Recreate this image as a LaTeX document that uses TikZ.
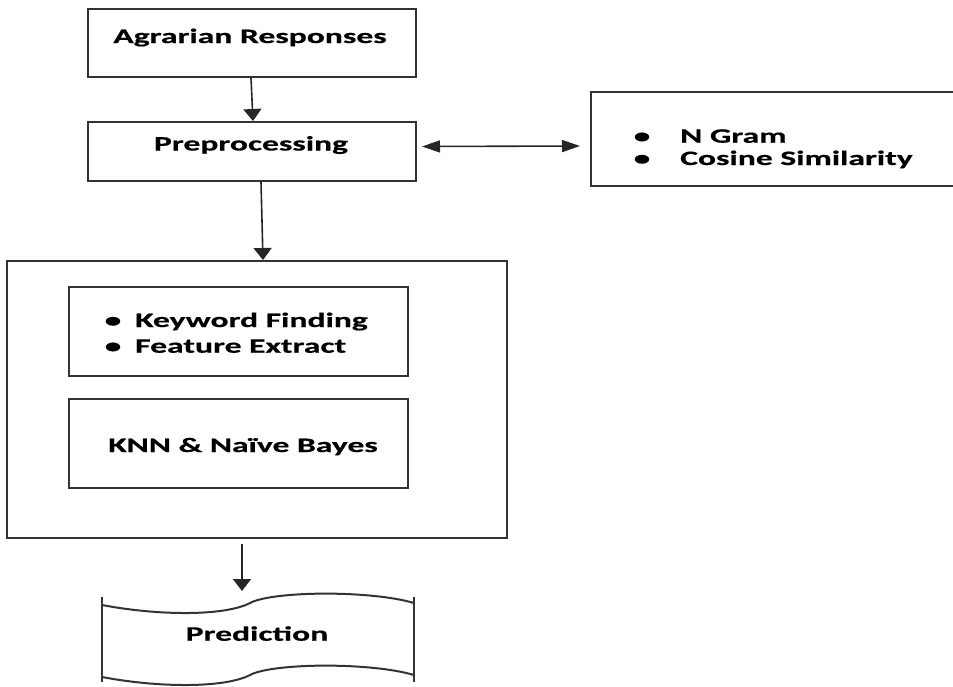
\documentclass[tikz,border=0pt]{standalone}
\usepackage{fontspec}
\newfontfamily\lbl{Carlito}[FakeStretch=1.64,FakeBold=0.6]
\usetikzlibrary{arrows.meta,calc}
\begin{document}
\begin{tikzpicture}[x=1pt,y=-1pt,
  box/.style={draw=black!80, line width=2pt, rectangle, inner sep=0pt},
  lab/.style={inner sep=0pt, font=\lbl\bfseries\fontsize{20.5}{25}\selectfont},
  arr/.style={draw=black!85, line width=1.6pt, -{Triangle[length=12pt,width=18pt]}},
  harr/.style={draw=black!85, line width=1.6pt, {Triangle[length=18pt,width=12pt]}-{Triangle[length=18pt,width=12pt]}},
  wave/.style={draw=black!80, line width=2pt}]
\path[use as bounding box] (0,0) rectangle (953,686);
\clip (0,0) rectangle (953,686);

% boxes
\node[box, minimum width=328pt, minimum height=68pt] (agr) at (252,43) {};
\node[box, minimum width=328pt, minimum height=59pt] (pre) at (252,151.5) {};
\node[box, minimum width=374pt, minimum height=94pt] (ng) at (778,139) {};
\node[box, minimum width=500pt, minimum height=277pt] (big) at (257,399.5) {};
\node[box, minimum width=339pt, minimum height=89pt] (kw) at (238.5,331.5) {};
\node[box, minimum width=339pt, minimum height=89pt] (knn) at (238.5,443.5) {};

% texts
\node[lab, anchor=base] (tagr) at (250,43) {Agrarian Responses};
\node[lab, anchor=base] (tpre) at (251,150.5) {Preprocessing};
\node[lab, anchor=base] (bkw1) at (113,327) {•};
\node[lab, anchor=base] (bkw2) at (113,352.7) {•};
\node[lab, anchor=base west] (tkw1) at (135,327) {Keyword Finding};
\node[lab, anchor=base west] (tkw2) at (135,352.7) {Feature Extract};
\node[lab, anchor=base] (tknn) at (243,452) {KNN \& Naïve Bayes};
\node[lab, anchor=base] (bng1) at (642,142.7) {•};
\node[lab, anchor=base] (bng2) at (642,165) {•};
\node[lab, anchor=base west] (tng1) at (680,142.7) {N Gram};
\node[lab, anchor=base west] (tng2) at (680,165) {Cosine Similarity};

% prediction shape
\draw[wave] (102,597) -- (102,682);
\draw[wave] (414,597) -- (414,682);
\draw[wave] (102,605) .. controls (160,616) and (225,616) .. (250,603)
  .. controls (272,591) and (370,590) .. (414,603);
\draw[wave] (102,677) .. controls (160,688) and (225,688) .. (250,675)
  .. controls (272,663) and (370,662) .. (414,675);
\node[lab, anchor=base] (pred) at (257,640.7) {Prediction};
\coordinate (predtop) at (242,591);

% connectors
\draw[arr] ([xshift=-1pt]agr.south) -- ([xshift=1pt]pre.north);
\draw[arr] ([xshift=9pt]pre.south) -- ([xshift=6pt]big.north);
\draw[harr] ([xshift=5pt,yshift=5pt]pre.east) -- ([xshift=-10pt,yshift=-7pt]ng.west);
\draw[arr] ([xshift=-15pt,yshift=-5pt]big.south) -- (predtop);
\end{tikzpicture}
\end{document}
